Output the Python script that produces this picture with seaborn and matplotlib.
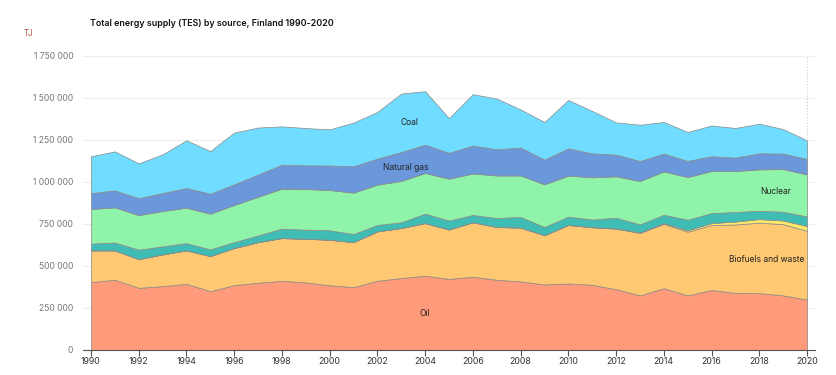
import numpy as np
import pandas as pd
import seaborn as sns
import matplotlib.pyplot as plt
from matplotlib.ticker import FuncFormatter, MultipleLocator

sns.set_theme(style='white')
plt.rcParams['font.family'] = ['Inter', 'DejaVu Sans']

# values, TJ
years = list(range(1990, 2021))
oil = [404000, 418000, 370000, 380000, 394000, 350000, 386000, 400000, 412000, 402000,
       385000, 374000, 412000, 428000, 442000, 423000, 436000, 418000, 408000, 390000,
       396000, 388000, 362000, 325000, 368000, 325000, 357000, 340000, 338000, 325000, 300000]
biofuels = [189000, 175000, 171000, 189000, 199000, 209000, 221000, 242000, 254000, 260000,
            271000, 268000, 294000, 298000, 313000, 294000, 324000, 314000, 320000, 293000,
            348000, 342000, 360000, 372000, 383000, 379000, 387000, 407000, 420000, 424000, 409000]
wind_solar = [0, 0, 0, 0, 0, 0, 0, 100, 100, 200,
              300, 300, 200, 300, 400, 600, 600, 700, 900, 1000,
              1100, 1700, 1800, 2800, 4000, 8400, 11200, 17400, 21000, 21900, 29000]
hydro = [40000, 47000, 56000, 48000, 43000, 40000, 35000, 40000, 56000, 54000,
         56000, 48000, 38000, 34000, 56000, 53000, 43000, 53000, 63000, 48000,
         49000, 45000, 63000, 48000, 50000, 63000, 60000, 57000, 50000, 52000, 57000]
nuclear = [206000, 209000, 206000, 210000, 211000, 212000, 221000, 230000, 238000, 242000,
           240000, 246000, 240000, 246000, 242000, 249000, 247000, 253000, 247000, 254000,
           244000, 251000, 247000, 258000, 258000, 254000, 250000, 244000, 246000, 254000, 250000]
natural_gas = [95000, 101000, 101000, 107000, 117000, 119000, 123000, 132000, 143000, 141000,
               146000, 157000, 155000, 172000, 169000, 154000, 166000, 156000, 166000, 147000,
               162000, 143000, 129000, 119000, 106000, 96000, 88000, 80000, 96000, 92000, 92000]
coal = [219000, 232000, 207000, 230000, 284000, 254000, 308000, 280000, 228000, 222000,
        215000, 260000, 278000, 348000, 318000, 206000, 306000, 302000, 227000, 224000,
        288000, 252000, 192000, 216000, 188000, 172000, 183000, 176000, 176000, 146000, 111000]

sources = ['Oil', 'Biofuels and waste', 'Wind and solar', 'Hydro', 'Nuclear', 'Natural gas', 'Coal']
colors = ['#ff9a7a', '#ffc872', '#ffe96a', '#3fbdb4', '#8ff3a9', '#6a98da', '#70dcff']

df = pd.DataFrame({'Year': years, 'Oil': oil, 'Biofuels and waste': biofuels,
                   'Wind and solar': wind_solar, 'Hydro': hydro, 'Nuclear': nuclear,
                   'Natural gas': natural_gas, 'Coal': coal})

fig = plt.figure(figsize=(8.36, 3.75), dpi=100)
ax = fig.add_axes([0.0993, 0.0667, 0.876, 0.784])

ax.stackplot(df['Year'], [df[s] for s in sources], colors=colors,
             edgecolor='#8a8a8a', linewidth=0.5)

ax.set_xlim(1989.67, 2020.35)
ax.set_ylim(0, 1750000)
ax.yaxis.set_major_locator(MultipleLocator(250000))
ax.xaxis.set_major_locator(MultipleLocator(2))
ax.yaxis.set_major_formatter(FuncFormatter(lambda v, p: f'{int(v):,}'.replace(',', ' ')))
ax.grid(axis='y', color='#eeeeee', linewidth=0.8)
ax.set_axisbelow(True)
for s in ['top', 'right', 'left']:
    ax.spines[s].set_visible(False)
ax.spines['bottom'].set_color('#555555')
ax.spines['bottom'].set_linewidth(0.8)
ax.tick_params(axis='x', bottom=True, length=4, width=0.8, color='#555555',
               labelsize=6.3, labelcolor='#333333', pad=1)
ax.tick_params(axis='y', left=False, length=0, labelsize=6.2, labelcolor='#777777', pad=7)

# dotted end marker at 2020
ax.axvline(2020, color='#cccccc', linestyle=':', linewidth=0.8, zorder=0)

label_kw = dict(fontsize=6.1, color='#222222', ha='center', va='center')
ax.text(2003.33, 1355000, 'Coal', **label_kw)
ax.text(2003.2, 1087000, 'Natural gas', **label_kw)
ax.text(2018.7, 944000, 'Nuclear', **label_kw)
ax.text(2018.33, 539000, 'Biofuels and waste', **label_kw)
ax.text(2004.0, 217000, 'Oil', **label_kw)

fig.text(90 / 836, 1 - 23 / 375, 'Total energy supply (TES) by source, Finland 1990-2020',
         fontsize=6.4, fontweight='semibold', color='#111111', va='center', ha='left')
fig.text(28 / 836, 1 - 33 / 375, 'TJ', fontsize=5.8, color='#b5533c', va='center', ha='center')

fig.savefig('out.png', dpi=100)
